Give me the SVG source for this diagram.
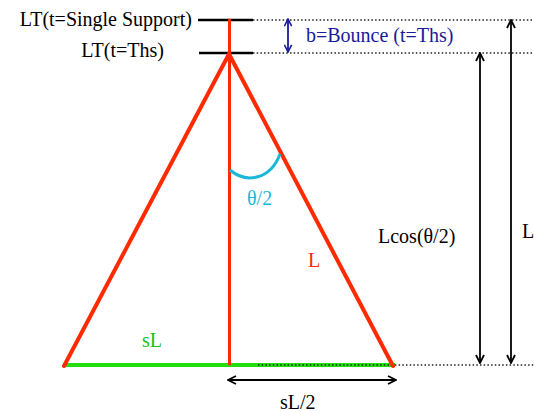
<svg xmlns="http://www.w3.org/2000/svg" width="534" height="412" viewBox="0 0 534 412">
<style>
text{font-family:"Liberation Serif","Times New Roman",serif;font-size:20px}
.blk{stroke:#000;fill:none}
.dot{stroke:#222;stroke-width:1.5;stroke-dasharray:1.5 2.2;fill:none}
.red{stroke:#ff2a00;fill:none;stroke-linecap:round}
</style>
<defs>
<marker id="ah" viewBox="0 0 10 10" refX="9" refY="5" markerWidth="10" markerHeight="10" markerUnits="userSpaceOnUse" orient="auto-start-reverse">
<path d="M1,1 L9,5 L1,9" fill="none" stroke="#000" stroke-width="1.8"/>
</marker>
<marker id="ahb" viewBox="0 0 10 10" refX="9" refY="5" markerWidth="9" markerHeight="9" markerUnits="userSpaceOnUse" orient="auto-start-reverse">
<path d="M1,1 L9,5 L1,9" fill="none" stroke="#1a1a9c" stroke-width="1.8"/>
</marker>
</defs>
<g id="levels">
<line class="blk" x1="198" y1="20" x2="253" y2="20" stroke-width="2.5"/>
<line class="blk" x1="199" y1="53" x2="253" y2="53" stroke-width="2.5"/>
<text x="192" y="26" text-anchor="end">LT(t=Single Support)</text>
<text x="164" y="57" text-anchor="end">LT(t=Ths)</text>
</g>
<g id="connectors">
<line class="dot" x1="253" y1="20" x2="534" y2="20"/>
<line class="dot" x1="253" y1="53" x2="534" y2="53"/>
<line x1="288" y1="19" x2="288" y2="52" stroke="#1a1a9c" stroke-width="1.8" marker-start="url(#ahb)" marker-end="url(#ahb)"/>
<line class="blk" x1="480" y1="53" x2="480" y2="363" stroke-width="1.8" marker-start="url(#ah)" marker-end="url(#ah)"/>
<line class="blk" x1="511" y1="20" x2="511" y2="363" stroke-width="1.8" marker-start="url(#ah)" marker-end="url(#ah)"/>
<line class="blk" x1="228" y1="380" x2="396" y2="380" stroke-width="2" marker-start="url(#ah)" marker-end="url(#ah)"/>
</g>
<g id="triangle">
<line x1="64" y1="365" x2="395" y2="365" stroke="#22e010" stroke-width="4"/>
<line class="dot" x1="258" y1="365" x2="534" y2="365"/>
<line class="red" x1="229.5" y1="20" x2="229.5" y2="364" stroke-width="3"/>
<polyline class="red" points="64,366 229,54 393,366" stroke-width="4" stroke-linejoin="round"/>
<path d="M230,170 C245,183 270,181 280,154" fill="none" stroke="#1ab8d8" stroke-width="3"/>
</g>
<g id="labels">
<text x="306" y="42" fill="#1a1a9c">b=Bounce (t=Ths)</text>
<text x="247" y="205" fill="#1ab8d8">θ/2</text>
<text x="308" y="267" fill="#ff2a00">L</text>
<text x="378" y="243">Lcos(θ/2)</text>
<text x="522" y="238">L</text>
<text x="142" y="347" fill="#22c010">sL</text>
<text x="280" y="409">sL/2</text>
</g>
</svg>
